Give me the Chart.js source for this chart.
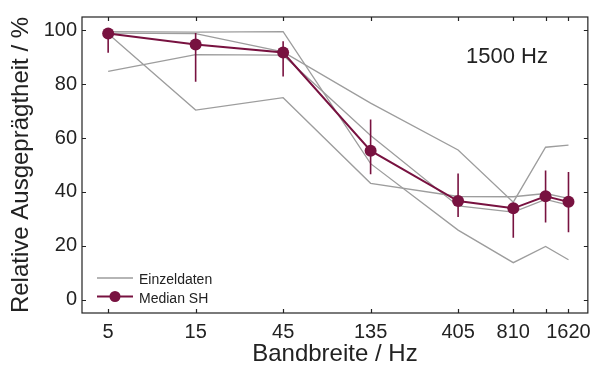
<!DOCTYPE html>
<html>
<head>
<meta charset="utf-8">
<script src="https://cdn.jsdelivr.net/npm/chart.js@4.4.1/dist/chart.umd.min.js"></script>
<style>
  html, body { margin: 0; padding: 0; background: #fff; }
  #wrap { width: 598px; height: 365px; position: relative; }
</style>
</head>
<body>
<div id="wrap"><canvas id="chart"></canvas></div>
<script>
// Bandbreiten (Hz) und Beschriftungen der x-Achse
const bandwidths = [5, 15, 45, 135, 405, 810, 1215, 1620];
const bandLabels = ['5', '15', '45', '135', '405', '810', '', '1620'];
const yTicks = [0, 20, 40, 60, 80, 100];

// Median SH mit Fehlerbalken
const median = [98.9, 94.8, 91.8, 55.3, 36.6, 33.9, 38.4, 36.3];
const errLow = [91.7, 80.9, 82.9, 46.6, 30.7, 23.0, 28.6, 25.0];
const errHigh = [100.0, 99.1, 96.0, 66.9, 46.8, 36.0, 48.0, 47.4];

// Einzeldaten
const subj1 = [99.6, 99.4, 99.6, 50.5, 25.8, 13.7, 19.7, 14.8];
const subj2 = [99.0, 98.8, 92.0, 73.0, 55.6, 36.2, 56.6, 57.4];
const subj3 = [84.8, 91.0, 90.8, 61.0, 34.8, 32.5, 37.2, 35.1];
const subj4 = [98.8, 70.4, 75.0, 43.2, 38.3, 38.2, 39.4, 37.6];

const MAROON = '#781240';
const GREY = '#9d9d9d';
const FONT = "'Liberation Sans', Arial, sans-serif";

const toPoints = arr => arr.map((y, i) => ({ x: bandwidths[i], y: y }));

// Reihenfolge: Index 0 wird zuletzt (oben) gezeichnet
const datasets = [];
datasets.push({
  label: 'Median SH',
  data: toPoints(median),
  borderColor: MAROON,
  backgroundColor: MAROON,
  borderWidth: 2,
  pointRadius: 6,
  pointBorderWidth: 0,
  pointBackgroundColor: MAROON
});
bandwidths.forEach((bw, i) => {
  datasets.push({
    label: 'err' + i,
    data: [{ x: bw, y: errLow[i] }, { x: bw, y: errHigh[i] }],
    borderColor: MAROON,
    borderWidth: 1.6,
    pointRadius: 0
  });
});
[subj1, subj2, subj3, subj4].forEach((s, i) => {
  datasets.push({
    label: 'Einzeldaten ' + (i + 1),
    data: toPoints(s),
    borderColor: GREY,
    borderWidth: 1.3,
    pointRadius: 0
  });
});

// Rahmen, Ticks nach innen, Legende und Frequenzangabe
const framePlugin = {
  id: 'frame',
  afterDraw(chart) {
    const { ctx, chartArea: a, scales } = chart;
    ctx.save();
    ctx.strokeStyle = '#222';
    ctx.lineWidth = 1.2;
    ctx.strokeRect(a.left, a.top, a.right - a.left, a.bottom - a.top);

    ctx.beginPath();
    bandwidths.forEach(v => {
      const px = Math.round(scales.x.getPixelForValue(v)) + 0.5;
      ctx.moveTo(px, a.bottom); ctx.lineTo(px, a.bottom - 4);
      ctx.moveTo(px, a.top); ctx.lineTo(px, a.top + 4);
    });
    yTicks.forEach(v => {
      const py = Math.round(scales.y.getPixelForValue(v)) + 0.5;
      ctx.moveTo(a.left, py); ctx.lineTo(a.left + 4, py);
      ctx.moveTo(a.right, py); ctx.lineTo(a.right - 4, py);
    });
    ctx.stroke();

    // Legende
    ctx.lineWidth = 1.3;
    ctx.strokeStyle = GREY;
    ctx.beginPath();
    ctx.moveTo(97, 278); ctx.lineTo(133, 278);
    ctx.stroke();
    ctx.lineWidth = 2;
    ctx.strokeStyle = MAROON;
    ctx.beginPath();
    ctx.moveTo(97, 296.5); ctx.lineTo(133, 296.5);
    ctx.stroke();
    ctx.fillStyle = MAROON;
    ctx.beginPath();
    ctx.arc(115, 296.5, 5.5, 0, Math.PI * 2);
    ctx.fill();

    ctx.fillStyle = '#222';
    ctx.font = '14px ' + FONT;
    ctx.textBaseline = 'alphabetic';
    ctx.textAlign = 'left';
    ctx.fillText('Einzeldaten', 139, 283.5);
    ctx.fillText('Median SH', 139, 302.5);

    ctx.font = '22px ' + FONT;
    ctx.fillText('1500 Hz', 466, 63);
    ctx.restore();
  }
};

new Chart(document.getElementById('chart'), {
  type: 'line',
  data: { datasets: datasets },
  options: {
    responsive: true,
    maintainAspectRatio: false,
    animation: false,
    layout: { padding: { top: 15, right: 7, left: 0, bottom: 0 } },
    plugins: {
      legend: { display: false },
      tooltip: { enabled: false }
    },
    scales: {
      x: {
        type: 'logarithmic',
        min: 3.6,
        max: 2066,
        grid: { display: false, drawTicks: false },
        border: { display: false },
        afterBuildTicks: scale => {
          scale.ticks = bandwidths.map(v => ({ value: v }));
        },
        afterFit: scale => { scale.height = 52; },
        ticks: {
          autoSkip: false,
          maxRotation: 0,
          padding: 7,
          color: '#222',
          font: { family: FONT, size: 20 },
          callback: (value) => {
            const i = bandwidths.indexOf(value);
            return i >= 0 ? bandLabels[i] : '';
          }
        },
        title: {
          display: true,
          text: 'Bandbreite / Hz',
          color: '#222',
          font: { family: FONT, size: 24, lineHeight: 0.85 },
          padding: 0
        }
      },
      y: {
        min: -5,
        max: 105,
        grid: { display: false, drawTicks: false },
        border: { display: false },
        afterBuildTicks: scale => {
          scale.ticks = yTicks.map(v => ({ value: v }));
        },
        afterFit: scale => { scale.width = 82; },
        ticks: {
          padding: 5,
          color: '#222',
          font: { family: FONT, size: 20 }
        },
        title: {
          display: true,
          text: 'Relative Ausgeprägtheit / %',
          color: '#222',
          font: { family: FONT, size: 24 },
          padding: { top: 7, bottom: 0 }
        }
      }
    }
  },
  plugins: [framePlugin]
});
</script>
</body>
</html>
